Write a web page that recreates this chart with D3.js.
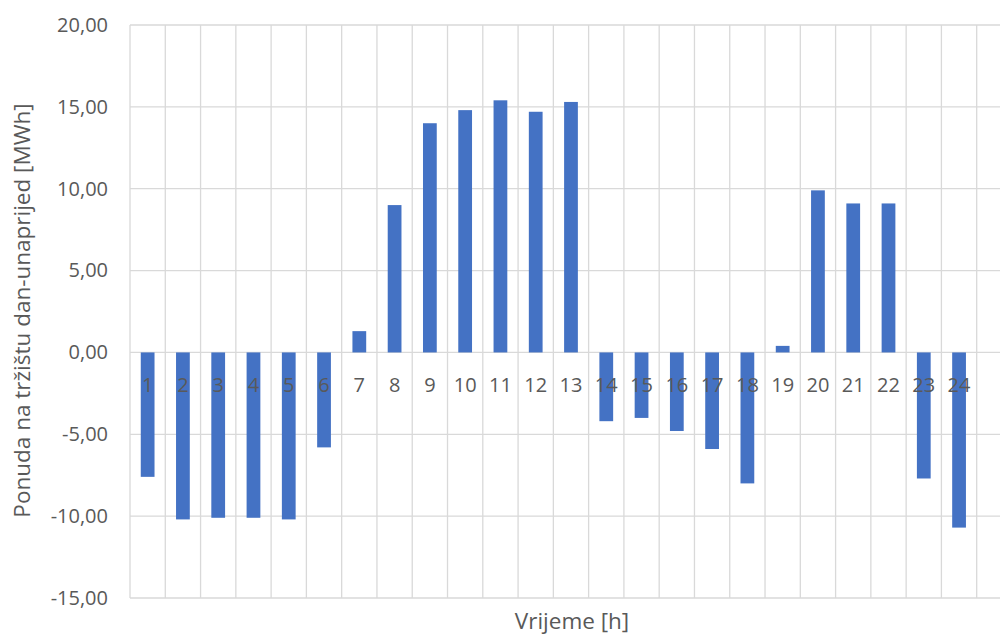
<!DOCTYPE html>
<html><head><meta charset="utf-8">
<script src="https://cdn.jsdelivr.net/npm/d3@7/dist/d3.min.js"></script>
<style>body{margin:0;background:#fff;}svg{display:block;}</style>
</head><body>
<svg id="c" width="1000" height="635"></svg>
<script>
const categories = ["1","2","3","4","5","6","7","8","9","10","11","12","13","14","15","16","17","18","19","20","21","22","23","24"];
const values = [-7.6,-10.2,-10.1,-10.1,-10.2,-5.8,1.3,9.0,14.0,14.8,15.4,14.7,15.3,-4.2,-4.0,-4.8,-5.9,-8.0,0.4,9.9,9.1,9.1,-7.7,-10.7];
const yTicks = [-15,-10,-5,0,5,10,15,20];
const yTitle = "Ponuda na tržištu dan-unaprijed [MWh]";
const xTitle = "Vrijeme [h]";

const svg = d3.select("#c");
const font = "'Open Sans', 'Noto Sans', sans-serif";
const x = d3.scaleBand().domain(categories).range([130, 976.7]).paddingInner(0.61).paddingOuter(0.305);
const y = d3.scaleLinear().domain([-15, 20]).range([598, 25]);
const plotRight = 1000;
const grid = "#d9d9d9";
const txt = "#595959";

svg.append("g").selectAll("line").data(yTicks).join("line")
  .attr("x1", 130).attr("x2", plotRight)
  .attr("y1", d => y(d)).attr("y2", d => y(d))
  .attr("stroke", grid).attr("stroke-width", 1.3);

const step = x.step();
const bounds = d3.range(categories.length + 1).map(i => 130 + i * step);
svg.append("g").selectAll("line").data(bounds).join("line")
  .attr("x1", d => d).attr("x2", d => d)
  .attr("y1", y(20)).attr("y2", y(-15))
  .attr("stroke", grid).attr("stroke-width", 1.3);

svg.append("g").selectAll("rect").data(values).join("rect")
  .attr("x", (d, i) => x(categories[i]))
  .attr("width", x.bandwidth())
  .attr("y", d => y(Math.max(0, d)))
  .attr("height", d => Math.abs(y(d) - y(0)))
  .attr("fill", "#4472c4");

const fmt = d3.formatLocale({decimal: ",", thousands: ".", grouping: [3], currency: ["", ""], minus: "-"}).format(".2f");
const yAxis = d3.axisLeft(y).tickValues(yTicks).tickSize(0).tickPadding(0).tickFormat(fmt);
const gy = svg.append("g").attr("transform", "translate(108,0)").call(yAxis);
gy.select(".domain").remove();
gy.selectAll("text").attr("font-family", font).attr("font-size", 20).attr("fill", txt);

const xAxis = d3.axisBottom(x).tickSize(0).tickPadding(0);
const gx = svg.append("g").attr("transform", `translate(0,${y(0) + 33})`).call(xAxis);
gx.select(".domain").remove();
gx.selectAll("text").attr("font-family", font).attr("font-size", 20).attr("fill", txt).attr("dy", "0.35em");

svg.append("text").attr("x", 572).attr("y", 629).attr("text-anchor", "middle")
  .attr("font-family", font).attr("font-size", 22.5).attr("fill", txt).text(xTitle);
svg.append("text").attr("transform", "translate(30,310.5) rotate(-90)").attr("text-anchor", "middle")
  .attr("font-family", font).attr("font-size", 22.5).attr("fill", txt).text(yTitle);
</script>
</body></html>
